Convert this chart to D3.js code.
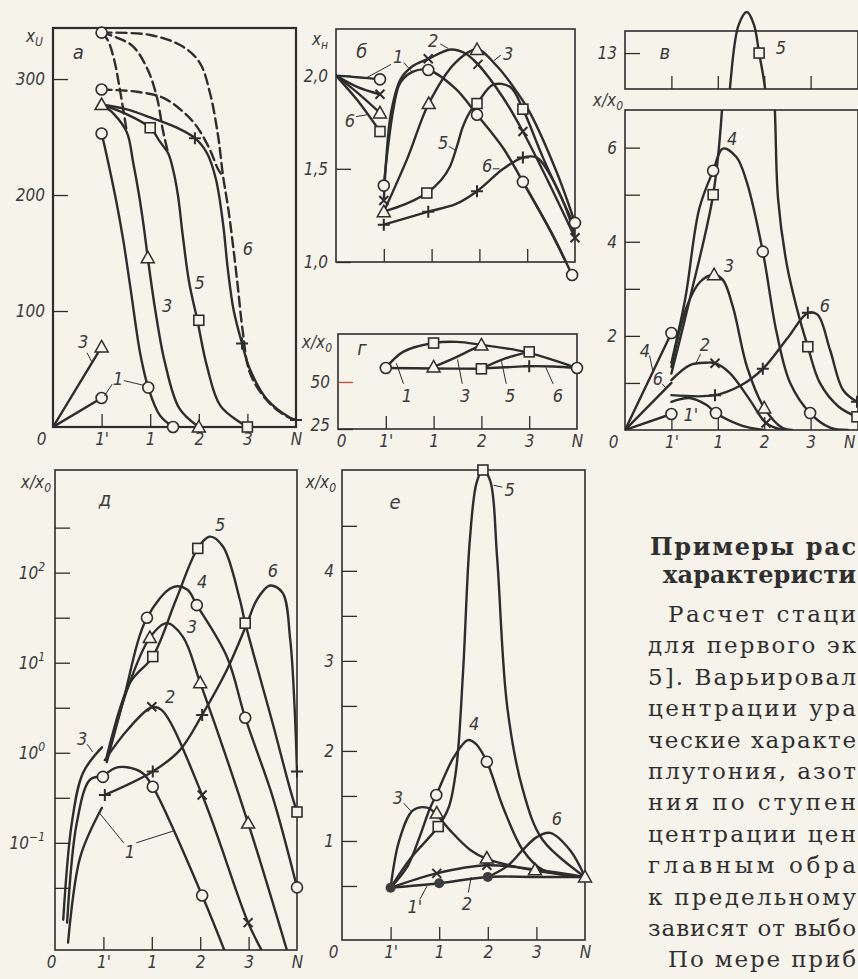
<!DOCTYPE html>
<html>
<head>
<meta charset="utf-8">
<script src="https://cdn.jsdelivr.net/npm/d3@7"></script>
<style>
  html, body { margin: 0; padding: 0; background: #f6f3eb; }
  svg { display: block; }
  .lbl, .tick text { font-family: "DejaVu Sans Condensed", "DejaVu Sans", sans-serif; font-style: italic; fill: #3a3a3a; }
  .para { font-family: "DejaVu Serif", "Liberation Serif", serif; fill: #2f2f2f; }
</style>
</head>
<body>
<svg id="chart" width="858" height="979"></svg>
<script>
// stage names along every x axis
const stages = ["0", "1'", "1", "2", "3", "N"];

// ---- panel а (x_U) : [stage index, value]
const aShort3 = [[0, 0], [1, 69]];
const aShort1 = [[0, 0], [1, 25]];
const aCurve1 = [[1, 253], [1.1, 235], [1.3, 195], [1.45, 160], [1.6, 118], [1.8, 62], [1.96, 34], [2.2, 10], [2.47, 0]];
const aCurve3Dash = [[1, 340], [1.12, 334], [1.25, 318], [1.38, 290], [1.52, 254]];
const aCurve3 = [[1, 278], [1.25, 270], [1.52, 254], [1.65, 228], [1.77, 200], [1.87, 172], [1.95, 146], [2.1, 102], [2.3, 56], [2.6, 16], [3, 0]];
const aCurve5Dash = [[1, 340], [1.3, 336], [1.65, 328], [1.95, 308], [2.14, 284], [2.26, 256], [2.37, 236]];
const aCurve5 = [[1, 278], [1.5, 270], [2, 258], [2.2, 246], [2.37, 236], [2.47, 222], [2.57, 200], [2.67, 165], [2.8, 125], [2.97, 92], [3.17, 52], [3.45, 18], [4, 0]];
const aCurve6 = [[1, 278], [1.5, 274], [2, 267], [2.5, 259], [2.92, 249], [3.17, 236], [3.35, 214], [3.5, 175], [3.6, 135], [3.72, 100], [3.89, 72], [4.05, 50], [4.4, 24], [4.88, 8], [5, 6]];
const aCurve6Dash = [[1, 291], [1.73, 289], [2.26, 284], [2.67, 272], [2.96, 259], [3.23, 239], [3.4, 222], [3.5, 216]];
const aTopDash = [[1, 340], [2, 338], [2.67, 328], [3.02, 314], [3.23, 288], [3.4, 250], [3.5, 216], [3.6, 190], [3.7, 158], [3.8, 122], [3.9, 84], [4.05, 47], [4.4, 23], [4.81, 9], [5, 6]];
const aCircles = [[1, 340], [1, 291], [1, 253], [1, 25], [1.96, 34], [2.47, 0]];
const aTriangles = [[1, 278], [1, 69], [1.95, 146], [3, 0]];
const aSquares = [[2, 258], [3, 92], [4, 0]];
const aPluses = [[2.92, 249], [3.89, 72], [5, 6]];
const aTicks = [100, 200, 300];

// ---- panel б (x_н)
const bFanCircle = [[0, 2.0], [0.5, 1.99], [0.92, 1.98]];
const bFanCross = [[0, 2.0], [0.44, 1.94], [0.92, 1.90]];
const bFanTriangle = [[0, 2.0], [0.44, 1.91], [0.92, 1.80]];
const bFanSquare = [[0, 2.0], [0.44, 1.87], [0.92, 1.70]];
const bCurve1 = [[1, 1.41], [1.08, 1.6], [1.2, 1.82], [1.34, 1.96], [1.6, 2.02], [1.93, 2.03], [2.5, 1.93], [2.95, 1.79], [3.5, 1.61], [3.91, 1.43], [4.5, 1.16], [4.94, 0.93]];
const bCurve2 = [[1, 1.33], [1.05, 1.55], [1.15, 1.8], [1.35, 1.98], [1.6, 2.05], [1.93, 2.09], [2.4, 2.14], [2.7, 2.12], [2.97, 2.06], [3.5, 1.88], [3.91, 1.7], [4.5, 1.4], [5, 1.13]];
const bCurve3 = [[1, 1.27], [1.5, 1.56], [1.94, 1.85], [2.5, 2.07], [2.95, 2.14], [3.37, 2.05], [3.79, 1.91], [4.06, 1.8], [4.62, 1.48], [5, 1.21]];
const bCurve5 = [[1, 1.27], [1.45, 1.31], [1.9, 1.37], [2.2, 1.44], [2.38, 1.51], [2.53, 1.62], [2.66, 1.73], [2.84, 1.82], [2.95, 1.85], [3.28, 1.95], [3.64, 1.94], [3.91, 1.82], [4.33, 1.56], [5, 1.19]];
const bCurve6 = [[1, 1.20], [1.93, 1.27], [2.5, 1.31], [2.95, 1.38], [3.5, 1.5], [3.91, 1.56], [4.2, 1.56], [4.62, 1.4], [5, 1.15]];
const bCircles = [[0.92, 1.98], [1, 1.41], [1.93, 2.03], [2.95, 1.79], [3.91, 1.43], [4.94, 0.93], [5, 1.21]];
const bCrosses = [[0.92, 1.90], [1, 1.33], [1.93, 2.09], [2.97, 2.06], [3.91, 1.7], [5, 1.13]];
const bTriangles = [[0.92, 1.80], [1, 1.27], [1.94, 1.85], [2.95, 2.14]];
const bSquares = [[0.92, 1.70], [1.9, 1.37], [2.95, 1.85], [3.91, 1.82]];
const bPluses = [[1, 1.20], [1.93, 1.27], [2.95, 1.38], [3.91, 1.56]];
const bTicks = [1.0, 1.5, 2.0];

// ---- panel г (x/x0)
const gCurve1 = [[1, 57.4], [1.36, 66], [2, 70.7], [2.49, 71.3], [3, 69.7], [3.92, 66], [5, 57.4]];
const gBase = [[1, 57.4], [2, 57.2], [3, 57]];
const gCurve3 = [[2, 58], [2.5, 63.5], [3, 69.7]];
const gCurve5 = [[3, 57], [3.5, 62.5], [4, 66]];
const gCurve6 = [[3, 57.2], [3.5, 57.8], [4, 58.4], [4.5, 58.2], [5, 57.4]];
const gCircles = [[1, 57.4], [5, 57.4]];
const gSquares = [[2, 70.7], [3, 57], [4, 66]];
const gTriangles = [[2, 58], [3, 69.7]];
const gPluses = [[4, 58.4]];
const gTicks = [25, 50];

// ---- panel в (x/x0, broken axis)
const vLine4 = [[0, 0], [1, 2.06]];
const vLine6 = [[0, 0], [1, 1.0]];
const vLine1p = [[0, 0], [1, 0.34]];
const vCurve4 = [[1, 1.43], [1.3, 2.8], [1.6, 4.7], [1.9, 5.51], [2.11, 5.98], [2.4, 5.8], [2.63, 5.25], [2.97, 3.79], [3.27, 2.06], [3.56, 1.0], [3.99, 0.36], [4.42, 0.05], [4.8, 0]];
const vCurve3 = [[1, 1.34], [1.33, 2.62], [1.62, 3.15], [1.92, 3.3], [2.11, 3.19], [2.33, 2.6], [2.63, 1.34], [3, 0.47], [3.4, 0.04], [3.6, 0]];
const vCurve5 = [[1, 1.2], [1.4, 2.8], [1.9, 5.0], [2.09, 6.8], [2.26, 11.6], [2.45, 14.1], [2.63, 14.6], [2.78, 14.1], [2.89, 13], [3.02, 11.6], [3.23, 6.8], [3.3, 4.9], [3.49, 3.5], [3.7, 2.6], [3.94, 1.77], [4.2, 1.0], [4.6, 0.5], [5, 0.28]];
const vCurve6 = [[1, 0.74], [1.94, 0.74], [2.5, 0.95], [2.97, 1.3], [3.5, 1.95], [3.94, 2.49], [4.15, 2.45], [4.42, 1.7], [4.7, 0.85], [5, 0.6]];
const vCurve1p = [[1, 0.6], [1.39, 0.68], [1.76, 0.53], [1.96, 0.36], [2.5, 0.1], [3, 0]];
const vCurve2 = [[1, 1.06], [1.4, 1.38], [1.76, 1.43], [1.94, 1.42], [2.26, 1.21], [2.69, 0.64], [3.04, 0.15], [3.4, 0]];
const vCircles = [[1, 2.06], [1.9, 5.51], [2.97, 3.79], [3.99, 0.36], [1, 0.34], [1.96, 0.36]];
const vSquares = [[1.9, 5.0], [3.94, 1.77], [5, 0.28]];
const vSquaresUp = [[2.89, 13]];
const vTriangles = [[1.92, 3.3], [3, 0.47]];
const vCrosses = [[1.94, 1.42], [3.04, 0.15]];
const vPluses = [[1.94, 0.74], [2.97, 1.3], [3.94, 2.49], [5, 0.6]];
const vTicks = [1, 2, 3, 4, 5, 6];
const vTickLabels = [2, 4, 6];
const vTicksUp = [13];

// ---- panel д (x/x0, log)
const dCurve3a = [[0.17, 0.014], [0.35, 0.17], [0.58, 0.6], [0.97, 1.15]];
const dCurve1a = [[0.25, 0.013], [0.45, 0.166], [0.72, 0.5], [0.99, 0.56], [1.25, 0.68], [1.49, 0.69], [1.8, 0.6], [2.02, 0.42], [3.04, 0.026], [3.51, 0.0062]];
const dCurve1b = [[0.27, 0.0078], [0.52, 0.069], [0.97, 0.245]];
const dCurve2 = [[1.03, 0.83], [1.5, 1.8], [2, 3.2], [2.2, 3.0], [3.04, 0.34], [3.99, 0.013], [4.3, 0.006]];
const dCurve6 = [[1.03, 0.34], [2.02, 0.62], [2.58, 1.07], [3.04, 2.63], [3.55, 8.3], [3.97, 27.5], [4.17, 50], [4.44, 72], [4.7, 60], [4.86, 18], [4.95, 3.2], [5, 0.62]];
const dCurve3 = [[1.07, 0.83], [1.49, 5.0], [1.96, 19], [2.31, 27.5], [2.64, 19.5], [3, 6.0], [3.99, 0.166], [4.8, 0.0062]];
const dCurve5 = [[1.07, 0.91], [1.55, 6.0], [2.02, 11.7], [2.5, 50], [2.95, 186], [3.2, 251], [3.47, 195], [3.82, 50], [3.93, 27.5], [4.5, 2.1], [4.86, 0.39], [5, 0.22]];
const dCurve4 = [[1.07, 0.79], [1.4, 3.6], [1.9, 31.6], [2.44, 69], [2.73, 65], [2.93, 43.6], [3.55, 11.7], [3.93, 2.45], [4.5, 0.32], [5, 0.032]];
const dCircles = [[0.99, 0.54], [2.02, 0.42], [3.04, 0.026], [1.9, 31.6], [2.93, 43.6], [3.93, 2.45], [5, 0.032]];
const dCrosses = [[2, 3.24], [3.04, 0.34], [3.99, 0.013]];
const dPluses = [[1.03, 0.34], [2.02, 0.62], [3.04, 2.63], [5, 0.62]];
const dTriangles = [[1.96, 19], [3, 6.0], [3.99, 0.166]];
const dSquares = [[2.02, 11.7], [2.95, 186], [3.93, 27.5], [5, 0.22]];
const dDecades = [-1, 0, 1, 2];
const dTicks = [-1.5, -1, -0.5, 0, 0.5, 1, 1.5, 2, 2.5];

// ---- panel е (x/x0)
const eCurve1p = [[1, 0.48], [2, 0.53], [3, 0.6], [4, 0.6], [5, 0.6]];
const eCurve2 = [[1, 0.48], [1.95, 0.64], [2.98, 0.73], [4, 0.68], [5, 0.6]];
const eCurve3 = [[1, 0.48], [1.18, 1.01], [1.46, 1.34], [1.75, 1.37], [1.95, 1.29], [2.22, 1.12], [2.64, 0.9], [2.98, 0.8], [3.97, 0.67], [5, 0.6]];
const eCurve4 = [[1, 0.48], [1.35, 0.72], [1.6, 1.05], [1.8, 1.35], [1.94, 1.51], [2.3, 1.93], [2.59, 2.12], [2.75, 2.08], [2.98, 1.88], [3.31, 1.38], [3.72, 0.9], [4.13, 0.68], [5, 0.6]];
const eCurve5 = [[1, 0.48], [1.4, 0.8], [1.98, 1.16], [2.2, 1.38], [2.35, 1.8], [2.49, 2.87], [2.63, 4.34], [2.77, 4.98], [2.9, 5.12], [3.05, 5.0], [3.19, 4.16], [3.4, 2.49], [3.72, 1.57], [4.13, 1.01], [5, 0.6]];
const eCurve6 = [[3, 0.6], [3.4, 0.72], [3.72, 0.9], [4.0, 1.04], [4.28, 1.09], [4.69, 0.9], [5, 0.6]];
const eDots = [[1, 0.48], [2, 0.53], [3, 0.6]];
const eCrosses = [[1.95, 0.64], [2.98, 0.73]];
const eTriangles = [[1.95, 1.31], [2.98, 0.81], [3.97, 0.68], [5, 0.6]];
const eCircles = [[1.94, 1.51], [2.98, 1.88]];
const eSquares = [[1.98, 1.16], [2.9, 5.12]];
const eTicks = [0.5, 1, 1.5, 2, 2.5, 3, 3.5, 4, 4.5];
const eTickLabels = [1, 2, 3, 4];

// ---- text block on the right (cut by the page edge)
const headingLines = ["Примеры рас", "характеристи"];
const paraLines = ["Расчет стаци", "для первого эк", "5]. Варьировал", "центрации ура", "ческие характе",
  "плутония, азот", "ния по ступен", "центрации цен", "главным обра", "к предельному", "зависят от выбо", "По мере приб"];

const ink = "#2d2d2d";
const bg = "#f6f3eb";
const svg = d3.select("#chart");

let clipCount = 0;
function makePanel(box, y, clipTop) {
    const x = d3.scaleLinear().domain([0, 5]).range([box.left, box.right]);
    const id = "clip" + (clipCount++);
    const top = clipTop === undefined ? box.top : clipTop;
    svg.append("clipPath").attr("id", id)
        .append("rect")
        .attr("x", box.left).attr("y", top)
        .attr("width", box.right - box.left).attr("height", box.bottom - top);
    const g = svg.append("g");
    const plot = g.append("g").attr("clip-path", `url(#${id})`);
    return { box, x, y, g, plot };
}

function frame(p, width) {
    p.g.append("rect")
        .attr("x", p.box.left).attr("y", p.box.top)
        .attr("width", p.box.right - p.box.left).attr("height", p.box.bottom - p.box.top)
        .attr("fill", "none").attr("stroke", ink).attr("stroke-width", width || 1.6);
}

function curve(p, pts, dashed, width) {
    const line = d3.line()
        .x(d => p.x(d[0]))
        .y(d => p.y(d[1]))
        .curve(pts.length > 2 ? d3.curveCatmullRom.alpha(0.5) : d3.curveLinear);
    p.plot.append("path")
        .datum(pts)
        .attr("d", line)
        .attr("fill", "none")
        .attr("stroke", ink)
        .attr("stroke-width", width || 2.4)
        .attr("stroke-linecap", "round")
        .attr("stroke-dasharray", dashed ? "10,5" : null);
}

function markers(p, type, pts) {
    pts.forEach(([i, v]) => {
        const cx = p.x(i), cy = p.y(v);
        const m = p.g.append("g").attr("transform", `translate(${cx},${cy})`);
        if (type === "circle") {
            m.append("circle").attr("r", 5.5).attr("fill", bg).attr("stroke", ink).attr("stroke-width", 1.6);
        } else if (type === "dot") {
            m.append("circle").attr("r", 5).attr("fill", "#3c3c3c");
        } else if (type === "square") {
            m.append("rect").attr("x", -5).attr("y", -5).attr("width", 10).attr("height", 10)
                .attr("fill", bg).attr("stroke", ink).attr("stroke-width", 1.6);
        } else if (type === "triangle") {
            m.append("path").attr("d", "M0,-6.5L6.5,5L-6.5,5Z")
                .attr("fill", bg).attr("stroke", ink).attr("stroke-width", 1.5);
        } else if (type === "cross") {
            m.append("path").attr("d", "M-4.5,-4.5L4.5,4.5M-4.5,4.5L4.5,-4.5")
                .attr("stroke", ink).attr("stroke-width", 2);
        } else if (type === "plus") {
            m.append("path").attr("d", "M-6,0H6M0,-6V6")
                .attr("stroke", ink).attr("stroke-width", 2);
        }
    });
}

function label(p, text, i, v, size) {
    p.g.append("text").attr("class", "lbl")
        .attr("x", p.x(i)).attr("y", p.y(v))
        .attr("text-anchor", "middle").attr("dominant-baseline", "central")
        .attr("font-size", size || 18)
        .text(text);
}

function leader(p, pts) {
    p.g.append("path")
        .attr("d", d3.line().x(d => p.x(d[0])).y(d => p.y(d[1]))(pts))
        .attr("fill", "none").attr("stroke", ink).attr("stroke-width", 1);
}

function axisTitle(p, main, sub, dx, dy) {
    const t = p.g.append("text").attr("class", "lbl")
        .attr("x", p.box.left + dx).attr("y", p.box.top + dy)
        .attr("text-anchor", "end").attr("font-size", 17).text(main);
    t.append("tspan").attr("font-size", 12).attr("dy", 4).text(sub);
}

function xAxis(p, withLabels, zeroShift) {
    const ax = d3.axisBottom(p.x)
        .tickValues([0, 1, 2, 3, 4, 5])
        .tickFormat(i => withLabels ? stages[i] : "")
        .tickSize(-13).tickPadding(6);
    const g = p.g.append("g")
        .attr("transform", `translate(0,${p.box.bottom})`)
        .attr("font-family", null).attr("font-size", null).attr("color", ink)
        .call(ax);
    g.select(".domain").remove();
    g.selectAll(".tick line").attr("stroke-width", 1.3).filter(d => d === 0 || d === 5).remove();
    g.selectAll(".tick text").attr("font-size", 17)
        .attr("dx", d => d === 0 ? (zeroShift === undefined ? -9 : zeroShift) : 0);
    return g;
}

function yAxis(p, values, fmt, size) {
    const ax = d3.axisLeft(p.y).tickValues(values).tickFormat(fmt).tickSize(-(size || 15)).tickPadding(8);
    const g = p.g.append("g")
        .attr("transform", `translate(${p.box.left},0)`)
        .attr("font-family", null).attr("font-size", null).attr("color", ink)
        .call(ax);
    g.select(".domain").remove();
    g.selectAll(".tick line").attr("stroke-width", 1.3);
    g.selectAll(".tick text").attr("font-size", 17);
    return g;
}

// ================= panel а =================
const pA = makePanel({ left: 53, right: 296, top: 28, bottom: 427 },
    d3.scaleLinear().domain([0, 344]).range([427, 28]));
frame(pA, 2.2);
yAxis(pA, aTicks, d => d);
xAxis(pA, true, -12);
[aShort3, aShort1, aCurve1, aCurve3, aCurve5, aCurve6].forEach(c => curve(pA, c, false));
[aCurve3Dash, aCurve5Dash, aCurve6Dash, aTopDash].forEach(c => curve(pA, c, true));
markers(pA, "circle", aCircles);
markers(pA, "triangle", aTriangles);
markers(pA, "square", aSquares);
markers(pA, "plus", aPluses);
axisTitle(pA, "x", "U", -10, 14);
label(pA, "а", 0.52, 323, 20);
label(pA, "3", 0.62, 74);
leader(pA, [[0.7, 64], [0.8, 56]]);
label(pA, "1", 1.34, 42);
leader(pA, [[1.22, 37], [1.06, 27]]);
leader(pA, [[1.46, 40], [1.86, 36]]);
label(pA, "3", 2.35, 105);
label(pA, "5", 3.02, 125);
label(pA, "6", 4.01, 154);

// ================= panel б =================
const pB = makePanel({ left: 336, right: 575, top: 29, bottom: 262 },
    d3.scaleLinear().domain([1.0, 2.25]).range([262, 29]));
frame(pB);
yAxis(pB, bTicks, d => d3.format(".1f")(d).replace(".", ","));
xAxis(pB, false);
[bFanCircle, bFanCross, bFanTriangle, bFanSquare, bCurve1, bCurve2, bCurve3, bCurve5, bCurve6].forEach(c => curve(pB, c, false));
// the N circle of curve 1 sits below the frame: draw that end unclipped
pB.g.append("path").datum(bCurve1.slice(-3))
    .attr("d", d3.line().x(d => pB.x(d[0])).y(d => pB.y(d[1])).curve(d3.curveCatmullRom.alpha(0.5)))
    .attr("fill", "none").attr("stroke", ink).attr("stroke-width", 2.4);
markers(pB, "circle", bCircles);
markers(pB, "cross", bCrosses);
markers(pB, "triangle", bTriangles);
markers(pB, "square", bSquares);
markers(pB, "plus", bPluses);
axisTitle(pB, "x", "н", -8, 16);
label(pB, "б", 0.54, 2.13, 20);
label(pB, "1", 1.3, 2.1);
leader(pB, [[1.15, 2.06], [0.65, 1.99]]);
leader(pB, [[1.42, 2.07], [1.59, 2.02]]);
label(pB, "6", 0.29, 1.76);
leader(pB, [[0.42, 1.78], [0.65, 1.79]]);
label(pB, "2", 2.03, 2.19);
leader(pB, [[2.18, 2.17], [2.35, 2.145]]);
label(pB, "3", 3.6, 2.12);
leader(pB, [[3.45, 2.11], [3.3, 2.08]]);
label(pB, "5", 2.24, 1.64);
leader(pB, [[2.36, 1.62], [2.5, 1.6]]);
label(pB, "6", 3.16, 1.52);
leader(pB, [[3.28, 1.5], [3.42, 1.5]]);

// ================= panel г =================
const pG = makePanel({ left: 338, right: 577, top: 334, bottom: 429 },
    d3.scaleLinear().domain([25, 75.5]).range([429, 334]));
frame(pG);
const gy = yAxis(pG, gTicks, d => d);
gy.selectAll(".tick line").filter(d => d === 50).attr("stroke", "#c8463c");
gy.selectAll(".tick text").filter(d => d === 25).attr("dy", "0.1em");
xAxis(pG, true, 3);
[gCurve1, gBase, gCurve3, gCurve5, gCurve6].forEach(c => curve(pG, c, false));
markers(pG, "circle", gCircles);
markers(pG, "square", gSquares);
markers(pG, "triangle", gTriangles);
markers(pG, "plus", gPluses);
axisTitle(pG, "x/x", "0", -6, 14);
label(pG, "г", 0.5, 68, 20);
label(pG, "1", 1.44, 43);
leader(pG, [[1.37, 49], [1.22, 60]]);
label(pG, "3", 2.66, 43);
leader(pG, [[2.6, 49], [2.5, 62]]);
label(pG, "5", 3.6, 43);
leader(pG, [[3.52, 49], [3.42, 61]]);
label(pG, "6", 4.6, 43);
leader(pG, [[4.5, 49], [4.35, 57.6]]);

// ================= panel в =================
const pV = makePanel({ left: 625, right: 858, top: 110, bottom: 430 },
    d3.scaleLinear().domain([0, 6.8]).range([430, 110]));
pV.x.range([625, 857]);
const pVU = makePanel({ left: 625, right: 858, top: 31, bottom: 89 },
    d3.scaleLinear().domain([11.6, 14.6]).range([89, 12]), 0);
pVU.x.range([625, 857]);
frame(pV);
frame(pVU);
yAxis(pV, vTicks, d => vTickLabels.includes(d) ? d : "");
yAxis(pVU, vTicksUp, d => d);
const vx = xAxis(pV, true, -12);
vx.selectAll(".tick text").filter(d => d === 5).attr("text-anchor", "end").attr("dx", -2);
xAxis(pVU, false);
[vLine4, vLine6, vLine1p, vCurve4, vCurve3, vCurve5, vCurve6, vCurve1p, vCurve2].forEach(c => curve(pV, c, false));
curve(pVU, vCurve5, false);
markers(pV, "circle", vCircles);
markers(pV, "square", vSquares);
markers(pVU, "square", vSquaresUp);
markers(pV, "triangle", vTriangles);
markers(pV, "cross", vCrosses);
markers(pV, "plus", vPluses);
axisTitle(pV, "x/x", "0", -2, -4);
label(pVU, "в", 0.86, 13.05, 20);
label(pVU, "5", 3.36, 13.2);
label(pV, "4", 2.31, 6.2);
label(pV, "3", 2.24, 3.5);
label(pV, "2", 1.72, 1.82);
leader(pV, [[1.63, 1.62], [1.53, 1.42]]);
label(pV, "6", 4.31, 2.65);
label(pV, "4", 0.43, 1.7);
leader(pV, [[0.53, 1.58], [0.6, 1.25]]);
label(pV, "6", 0.71, 1.1);
leader(pV, [[0.8, 0.98], [0.88, 0.9]]);
label(pV, "1'", 1.42, 0.32);

// ================= panel д =================
const pD = makePanel({ left: 55, right: 297, top: 470, bottom: 950 },
    d3.scaleLog().domain([Math.pow(10, -2.19), Math.pow(10, 3.14)]).range([950, 470]));
frame(pD);
yAxis(pD, dTicks.map(k => Math.pow(10, k)), () => "");
dDecades.forEach(k => {
    const t = pD.g.append("text").attr("class", "lbl")
        .attr("x", pD.box.left - 10).attr("y", pD.y(Math.pow(10, k)) + 6)
        .attr("text-anchor", "end").attr("font-size", 17).text("10");
    t.append("tspan").attr("font-size", 12).attr("dy", -8).text(k < 0 ? "−1" : k);
});
xAxis(pD, true, -4);
[dCurve3a, dCurve1a, dCurve1b, dCurve2, dCurve6, dCurve3, dCurve5, dCurve4].forEach(c => curve(pD, c, false));
markers(pD, "circle", dCircles);
markers(pD, "cross", dCrosses);
markers(pD, "plus", dPluses);
markers(pD, "triangle", dTriangles);
markers(pD, "square", dSquares);
axisTitle(pD, "x/x", "0", -4, 18);
label(pD, "д", 1.03, 650, 20);
label(pD, "5", 3.41, 340);
label(pD, "4", 3.04, 80);
label(pD, "3", 2.83, 25);
label(pD, "6", 4.5, 105);
label(pD, "2", 2.38, 4.2);
label(pD, "3", 0.56, 1.45);
leader(pD, [[0.66, 1.25], [0.78, 1.02]]);
label(pD, "1", 1.55, 0.08);
leader(pD, [[1.42, 0.1], [0.9, 0.22]]);
leader(pD, [[1.68, 0.1], [2.44, 0.135]]);

// ================= panel е =================
const pE = makePanel({ left: 342, right: 585, top: 470, bottom: 940 },
    d3.scaleLinear().domain([-0.1, 5.12]).range([940, 470]));
frame(pE);
yAxis(pE, eTicks, d => eTickLabels.includes(d) ? d : "");
xAxis(pE, true);
[eCurve1p, eCurve2, eCurve3, eCurve4, eCurve5, eCurve6].forEach(c => curve(pE, c, false));
markers(pE, "dot", eDots);
markers(pE, "cross", eCrosses);
markers(pE, "triangle", eTriangles);
markers(pE, "circle", eCircles);
markers(pE, "square", eSquares);
axisTitle(pE, "x/x", "0", -6, 18);
label(pE, "е", 1.09, 4.77, 20);
label(pE, "5", 3.45, 4.9);
leader(pE, [[3.3, 4.93], [3.12, 4.95]]);
label(pE, "4", 2.72, 2.3);
label(pE, "3", 1.15, 1.48);
leader(pE, [[1.27, 1.42], [1.42, 1.33]]);
label(pE, "6", 4.42, 1.25);
label(pE, "1'", 1.5, 0.27);
leader(pE, [[1.6, 0.35], [1.75, 0.5]]);
label(pE, "2", 2.57, 0.3);
leader(pE, [[2.6, 0.43], [2.66, 0.6]]);

// ================= text block =================
const textRight = 856;
headingLines.forEach((s, k) => {
    const x0 = k === 0 ? 650 : 663;
    svg.append("text").attr("class", "para")
        .attr("x", x0).attr("y", 555 + k * 28)
        .attr("font-size", 24).attr("font-weight", "bold")
        .attr("textLength", textRight - x0).attr("lengthAdjust", "spacing")
        .text(s);
});
paraLines.forEach((s, k) => {
    const x0 = (k === 0 || k === paraLines.length - 1) ? 668 : 648;
    svg.append("text").attr("class", "para")
        .attr("x", x0).attr("y", 622 + k * 31.4)
        .attr("font-size", 23)
        .attr("textLength", textRight - x0).attr("lengthAdjust", "spacing")
        .text(s);
});
</script>
</body>
</html>
